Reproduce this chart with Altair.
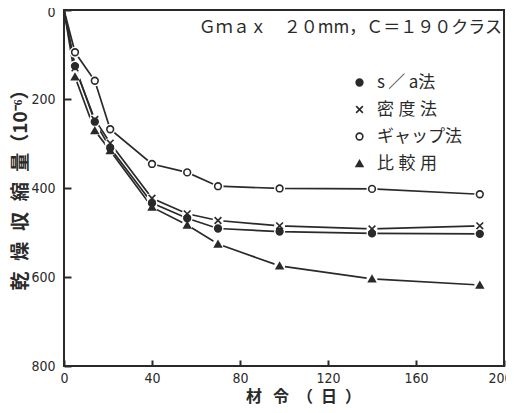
import altair as alt
import pandas as pd

# ---- data ----
ages = [0, 5, 14, 21, 40, 56, 70, 98, 140, 189]
series_names = ["s／a法", "密度法", "ギャップ法", "比較用"]
legend_labels = ["s\u2009／\u2009a法", "密\u2009\u200a度\u2009\u200a法",
                 "ギャップ法", "比\u2009\u200a較\u2009\u200a用"]
sa_vals = [0, 126, 251, 310, 434, 468, 491, 498, 502, 503]
density_vals = [0, 130, 246, 299, 423, 458, 473, 485, 492, 485]
gap_vals = [0, 95, 159, 268, 346, 365, 396, 401, 402, 414]
compare_vals = [0, 150, 271, 316, 443, 483, 526, 575, 604, 618]
x_ticks = [0, 40, 80, 120, 160, 200]
y_ticks = [0, 200, 400, 600, 800]
note = "Ｇｍａｘ　２０mm，Ｃ＝１９０クラス"
x_title = "材\u2002\u2009令\u3000（\u2002日\u2002）"
y_title = "乾\u2002\u200a燥\u2002\u200a収\u2002\u200a縮\u2002\u200a量（10⁻⁶）"

rows = []
for name, vals in zip(series_names, [sa_vals, density_vals, gap_vals, compare_vals]):
    for a, v in zip(ages, vals):
        rows.append({"age": a, "val": v, "series": name})
df = pd.DataFrame(rows)
df_pts = df[df["age"] > 0]

LABEL_FONT = "Liberation Sans Narrow, DejaVu Sans Condensed, sans-serif"
CJK = "Noto Sans CJK JP"
INK = "#2a2a2a"

xs = alt.Scale(domain=[0, 200], nice=False)
ys = alt.Scale(domain=[0, 800], reverse=True, nice=False)

x_main = alt.Axis(orient="bottom", values=x_ticks, ticks=False, domain=False, grid=False,
                  labelPadding=5, labelFont=LABEL_FONT, labelFontSize=14,
                  labelColor=INK, labelFlush=False,
                  labelOffset=alt.condition("datum.value == 200", alt.value(-4), alt.value(0)),
                  title=x_title, titleFont=CJK, titleFontSize=16,
                  titleFontWeight="bold", titleColor=INK,
                  titleX=239, titleY=30, titleAlign="center", titleBaseline="middle")
y_main = alt.Axis(orient="left", values=y_ticks, ticks=False, domain=False, grid=False,
                  labelPadding=9, labelFont=LABEL_FONT, labelFontSize=14,
                  labelColor=INK, labelFlush=False,
                  labelOffset=alt.condition("datum.value == 0", alt.value(2), alt.value(0)),
                  title=y_title, titleFont=CJK, titleFontSize=19,
                  titleFontWeight="bold", titleColor=INK, titleAngle=270,
                  titleX=-43.5, titleY=175, titleAlign="center", titleBaseline="middle")

x_tick_axis = alt.Axis(values=x_ticks, orient="bottom", offset=-6, tickSize=6,
                       tickWidth=2, tickColor=INK, domain=False, labels=False,
                       grid=False, title="")
y_tick_axis = alt.Axis(values=y_ticks, orient="left", offset=-7, tickSize=7,
                       tickWidth=2, tickColor=INK, domain=False, labels=False,
                       grid=False, title="")

base = alt.Chart(df)

lines = base.mark_line(color=INK, strokeWidth=1.7).encode(
    x=alt.X("age:Q", scale=xs, axis=x_main),
    y=alt.Y("val:Q", scale=ys, axis=y_main),
    detail="series:N",
)

halos = alt.Chart(df_pts).mark_point(filled=True, color="white", size=120,
                                     opacity=1, shape="circle").encode(
    x=alt.X("age:Q", scale=xs, axis=x_main),
    y=alt.Y("val:Q", scale=ys, axis=y_main),
)

label_expr = " : ".join(
    f"datum.label == '{n}' ? '{l}'" for n, l in zip(series_names, legend_labels)
) + " : datum.label"

legend_kw = dict(title=None, orient="none", legendX=287, legendY=64, padding=0,
                 rowPadding=9, labelFont=CJK, labelFontSize=17, labelColor=INK,
                 labelOffset=9, symbolSize=45, symbolStrokeWidth=1.6, symbolOpacity=1,
                 labelExpr=label_expr)

x_shape = "M-1,-1L1,1M-1,1L1,-1"
points = alt.Chart(df_pts).mark_point(filled=True, strokeWidth=1.6,
                                      opacity=1, size=45).encode(
    x=alt.X("age:Q", scale=xs, axis=x_main),
    y=alt.Y("val:Q", scale=ys, axis=y_main),
    shape=alt.Shape("series:N",
                    scale=alt.Scale(domain=series_names,
                                    range=["circle", x_shape, "circle", "triangle-up"]),
                    legend=alt.Legend(**legend_kw)),
    fill=alt.Fill("series:N",
                  scale=alt.Scale(domain=series_names,
                                  range=[INK, INK, "white", INK]),
                  legend=alt.Legend(**legend_kw)),
    stroke=alt.Stroke("series:N",
                      scale=alt.Scale(domain=series_names,
                                      range=[INK, INK, INK, INK]),
                      legend=alt.Legend(**legend_kw)),
)

note_layer = alt.Chart(pd.DataFrame({"t": [note]})).mark_text(
    font=CJK, fontSize=17, color=INK, align="right", baseline="middle"
).encode(text="t:N", x=alt.value(438), y=alt.value(18))

tick_layer = base.mark_point(opacity=0).encode(
    x=alt.X("age:Q", scale=xs, axis=x_tick_axis),
    y=alt.Y("val:Q", scale=ys, axis=y_tick_axis),
)

inner = alt.layer(lines, halos, points, note_layer)

chart = alt.layer(inner, tick_layer).resolve_axis(
    x="independent", y="independent"
).properties(
    width=440, height=356,
    autosize=alt.AutoSizeParams(type="none"),
    padding={"left": 56, "top": 2, "right": 2, "bottom": 39},
).configure_view(stroke=INK, strokeWidth=2)

chart.save("out.html", embed_options={"renderer": "svg", "actions": False})
